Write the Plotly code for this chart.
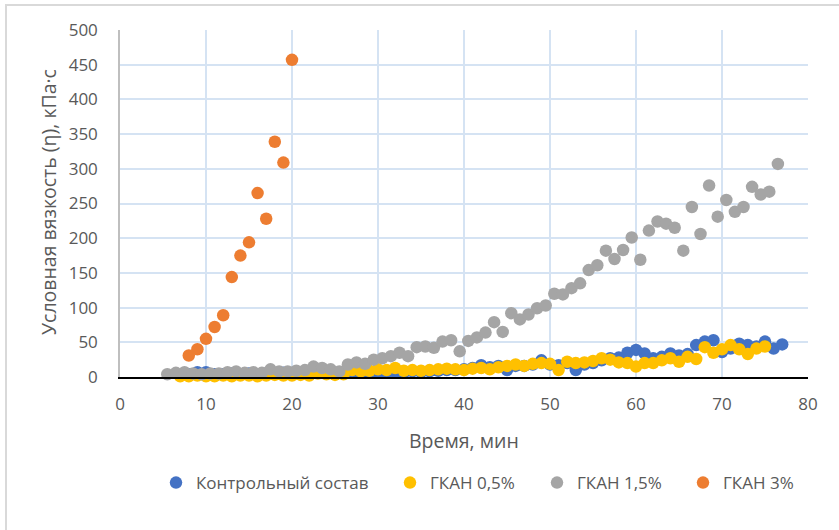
import plotly.graph_objects as go

# Time (min) and conditional viscosity (kPa·s) for each mixture
t_control = [7, 8, 9, 10, 11, 12, 13, 14, 15, 16, 17, 18, 19, 20, 21, 22, 23, 24, 25, 26,
             27, 28, 29, 30, 31, 32, 33, 34, 35, 36, 37, 38, 39, 40, 41, 42, 43, 44, 45, 46,
             47, 48, 49, 50, 51, 52, 53, 54, 55, 56, 57, 58, 59, 60, 61, 62, 63, 64, 65, 66,
             67, 68, 69, 70, 71, 72, 73, 74, 75, 76, 77]
v_control = [3, 4, 7, 7, 4, 4, 5, 4, 5, 4, 5, 5, 6, 5, 5, 6, 7, 6, 6, 7,
             7, 6, 6, 7, 6, 7, 6, 8, 7, 8, 9, 10, 10, 11, 13, 17, 14, 16, 10, 16,
             16, 18, 24, 18, 17, 20, 10, 18, 20, 24, 27, 28, 35, 39, 34, 27, 29, 34, 31, 33,
             46, 51, 53, 36, 41, 48, 46, 44, 51, 41, 47]

t_gkan05 = [7, 8, 9, 10, 11, 12, 13, 14, 15, 16, 17, 18, 19, 20, 21, 22, 23, 24, 25, 26,
            27, 28, 29, 30, 31, 32, 33, 34, 35, 36, 37, 38, 39, 40, 41, 42, 43, 44, 45, 46,
            47, 48, 49, 50, 51, 52, 53, 54, 55, 56, 57, 58, 59, 60, 61, 62, 63, 64, 65, 66,
            67, 68, 69, 70, 71, 72, 73, 74, 75]
v_gkan05 = [1, 1, 2, 1, 1, 2, 1, 2, 2, 1, 2, 3, 2, 2, 3, 2, 5, 4, 3, 4,
            10, 8, 9, 11, 10, 13, 9, 10, 9, 10, 11, 12, 11, 10, 12, 13, 11, 14, 16, 18,
            16, 19, 20, 19, 10, 22, 20, 21, 23, 27, 25, 21, 20, 15, 20, 20, 24, 27, 22, 29,
            26, 43, 35, 40, 46, 40, 33, 41, 44]

t_gkan15 = [5.5, 6.5, 7.5, 8.5, 9.5, 10.5, 11.5, 12.5, 13.5, 14.5, 15.5, 16.5, 17.5, 18.5,
            19.5, 20.5, 21.5, 22.5, 23.5, 24.5, 25.5, 26.5, 27.5, 28.5, 29.5, 30.5, 31.5,
            32.5, 33.5, 34.5, 35.5, 36.5, 37.5, 38.5, 39.5, 40.5, 41.5, 42.5, 43.5, 44.5,
            45.5, 46.5, 47.5, 48.5, 49.5, 50.5, 51.5, 52.5, 53.5, 54.5, 55.5, 56.5, 57.5,
            58.5, 59.5, 60.5, 61.5, 62.5, 63.5, 64.5, 65.5, 66.5, 67.5, 68.5, 69.5, 70.5,
            71.5, 72.5, 73.5, 74.5, 75.5, 76.5]
v_gkan15 = [4, 6, 7, 5, 4, 5, 5, 7, 8, 6, 7, 6, 11, 8, 8, 9, 10, 15, 13, 11, 8, 18, 21,
            19, 25, 27, 30, 35, 30, 43, 44, 42, 51, 53, 37, 52, 57, 64, 79, 65, 92, 83, 90,
            99, 103, 120, 119, 128, 135, 154, 161, 182, 170, 183, 201, 169, 211, 224, 221,
            215, 182, 245, 206, 276, 231, 255, 238, 245, 274, 263, 267, 307]

t_gkan3 = [8, 9, 10, 11, 12, 13, 14, 15, 16, 17, 18, 19, 20]
v_gkan3 = [31, 40, 55, 72, 89, 144, 175, 194, 265, 228, 339, 309, 457]

x_ticks = [0, 10, 20, 30, 40, 50, 60, 70, 80]
y_ticks = [0, 50, 100, 150, 200, 250, 300, 350, 400, 450, 500]

series = [
    ("Контрольный состав", t_control, v_control, "#4472C4"),
    ("ГКАН 0,5%", t_gkan05, v_gkan05, "#FFC000"),
    ("ГКАН 1,5%", t_gkan15, v_gkan15, "#A5A5A5"),
    ("ГКАН 3%", t_gkan3, v_gkan3, "#ED7D31"),
]

FONT = "Open Sans"
GREY_TEXT = "#595959"

W, H = 839, 530
L, R, T, B = 120, 31, 30, 153
pw, ph = W - L - R, H - T - B


def px(xp):
    return (xp - L) / pw


def py(yp):
    return (H - B - yp) / ph


# each series gets its own legend box so the entries sit in one centred row
legend_left = [156, 390, 537, 683]
legend_ids = ["legend", "legend2", "legend3", "legend4"]

fig = go.Figure()
for (name, xs, ys, color), lid in zip(series, legend_ids):
    fig.add_trace(go.Scatter(
        x=xs, y=ys, mode="markers", name=name, legend=lid,
        marker=dict(size=12.5, color=color, line=dict(width=0)),
        cliponaxis=False,
    ))

legend_style = dict(
    orientation="h", yanchor="middle", xanchor="left",
    font=dict(size=17, color=GREY_TEXT, family=FONT),
    bgcolor="rgba(0,0,0,0)", itemwidth=30,
)
legends = {}
for lid, xl in zip(legend_ids, legend_left):
    legends[lid] = dict(legend_style, x=px(xl), y=py(483))

fig.update_layout(
    width=W, height=H,
    margin=dict(l=L, r=R, t=T, b=B, pad=0),
    paper_bgcolor="white", plot_bgcolor="white",
    font=dict(family=FONT, color=GREY_TEXT, size=17),
    showlegend=True,
    **legends,
    xaxis=dict(
        range=[0, 80], tickvals=x_ticks, ticktext=[str(v) for v in x_ticks],
        showgrid=True, gridcolor="#D5E3F3", gridwidth=1.5,
        zeroline=False, showline=True, linecolor="#000000", linewidth=1.5,
        ticks="", tickfont=dict(size=17, color=GREY_TEXT), ticklabelstandoff=11,
        fixedrange=True,
    ),
    yaxis=dict(
        range=[0, 500], tickvals=y_ticks, ticktext=[str(v) for v in y_ticks],
        showgrid=True, gridcolor="#D5E3F3", gridwidth=1.5,
        zeroline=False, showline=True, linecolor="#BFBFBF", linewidth=1.5,
        ticks="", tickfont=dict(size=17, color=GREY_TEXT), ticklabelstandoff=17,
        fixedrange=True,
    ),
    annotations=[
        dict(text="Время, мин", x=px(464), y=py(440), xref="paper", yref="paper",
             showarrow=False, xanchor="center", yanchor="middle",
             font=dict(size=19.5, color=GREY_TEXT, family=FONT)),
        dict(text="Условная вязкость (η), кПа·с", x=px(48), y=py(202),
             xref="paper", yref="paper", showarrow=False, textangle=-90,
             xanchor="center", yanchor="middle",
             font=dict(size=19.5, color=GREY_TEXT, family=FONT)),
    ],
    shapes=[
        dict(type="rect", xref="paper", yref="paper",
             x0=px(6), y0=py(545), x1=px(850), y1=py(5),
             line=dict(color="#D9D9D9", width=2), fillcolor="rgba(0,0,0,0)",
             layer="below"),
    ],
)

fig.write_html("out.html")
